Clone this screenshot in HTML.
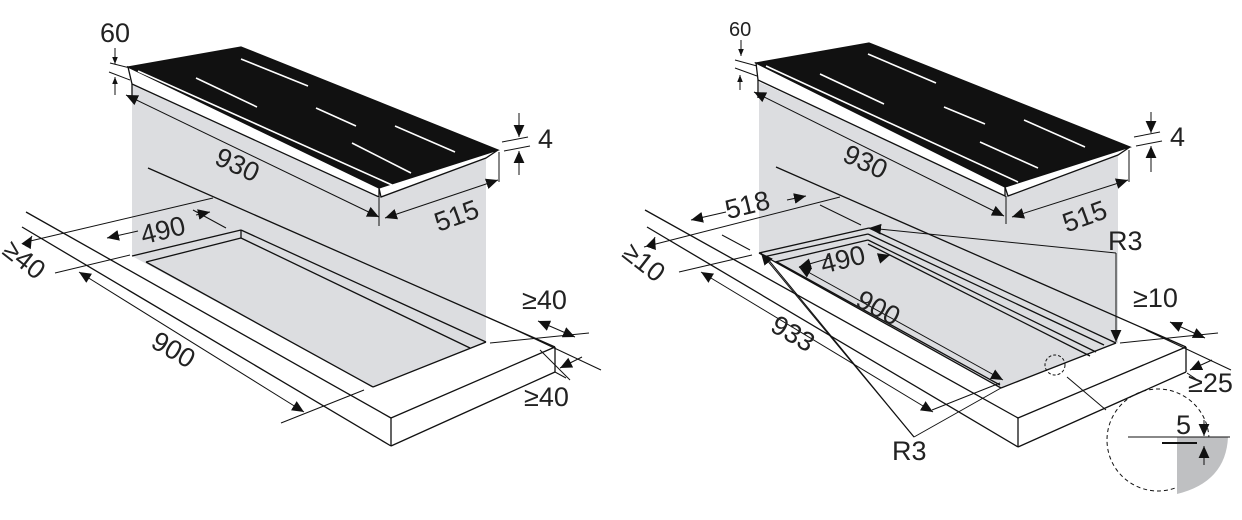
<!DOCTYPE html>
<html><head><meta charset="utf-8"><style>
html,body{margin:0;padding:0;background:#fff;}
svg{display:block;}
text{font-family:"Liberation Sans",sans-serif;fill:#222;}
</style></head><body>
<svg width="1242" height="520" viewBox="0 0 1242 520" xmlns="http://www.w3.org/2000/svg">
<defs>
<marker id="a" viewBox="0 0 10 10" refX="10" refY="5" markerWidth="12" markerHeight="12" orient="auto-start-reverse" markerUnits="userSpaceOnUse"><path d="M0,0.5 L10,5 L0,9.5 Z" fill="#111"/></marker>
<marker id="s" viewBox="0 0 10 10" refX="10" refY="5" markerWidth="7" markerHeight="7" orient="auto-start-reverse" markerUnits="userSpaceOnUse"><path d="M0,1 L10,5 L0,9 Z" fill="#111"/></marker>
</defs>
<g stroke="#111" stroke-width="1.3" fill="none">
<!-- LEFT FIGURE -->
<polygon points="132,85 379,197 486,157 486,343 373,387 132,256" fill="#dcdde0" stroke="none"/>
<line x1="26" y1="212" x2="391" y2="418"/>
<line x1="22" y1="227" x2="391" y2="446"/>
<line x1="391" y1="418" x2="555" y2="347"/>
<line x1="391" y1="418" x2="391" y2="446"/>
<line x1="391" y1="446" x2="555" y2="372"/>
<line x1="555" y1="347" x2="555" y2="372"/>
<line x1="148" y1="168" x2="555" y2="347"/>
<line x1="132" y1="256" x2="241" y2="230"/>
<line x1="241" y1="230" x2="241" y2="238"/>
<line x1="241" y1="238" x2="146" y2="262"/>
<line x1="241" y1="230" x2="486" y2="342"/>
<line x1="241" y1="238" x2="470" y2="348"/>
<line x1="146" y1="262" x2="373" y2="387"/>
<line x1="373" y1="387" x2="486" y2="342"/>
<polygon points="128,67 241,47 498,150 379,188" fill="#111"/>
<polygon points="128,67 379,188 379,197 132,84" fill="#fff"/>
<polygon points="379,188 498,150 486,158 381,197" fill="#fff"/>
<line x1="132" y1="84" x2="132" y2="100"/>
<g stroke="#fff" stroke-width="1.6">
<line x1="241" y1="59" x2="308" y2="86"/><line x1="196" y1="78" x2="257" y2="107"/>
<line x1="316" y1="108" x2="356" y2="126"/><line x1="395" y1="126" x2="455" y2="152"/>
<line x1="352" y1="143" x2="411" y2="173"/><line x1="138" y1="71" x2="392" y2="185"/>
</g>
<g stroke-width="1">
<line x1="126" y1="95" x2="379" y2="217" marker-start="url(#a)" marker-end="url(#a)"/>
<line x1="379" y1="198" x2="379" y2="226"/>
<line x1="385" y1="218" x2="498" y2="180" marker-start="url(#a)" marker-end="url(#a)"/>
<line x1="499" y1="152" x2="499" y2="182"/>
<line x1="110" y1="63" x2="130" y2="68"/><line x1="109" y1="72" x2="130" y2="80"/>
<line x1="115" y1="48" x2="115" y2="64" marker-end="url(#s)"/>
<line x1="115" y1="95" x2="115" y2="77" marker-end="url(#s)"/>
<line x1="502" y1="142" x2="528" y2="137"/><line x1="504" y1="151" x2="530" y2="146"/>
<line x1="519" y1="113" x2="519" y2="137" marker-end="url(#a)"/>
<line x1="519" y1="175" x2="519" y2="151" marker-end="url(#a)"/>
<line x1="26" y1="242" x2="213" y2="198"/>
<line x1="55" y1="273" x2="130" y2="255"/>
<line x1="107" y1="238" x2="138" y2="231" marker-start="url(#a)"/>
<line x1="196" y1="215" x2="210" y2="212" marker-end="url(#a)"/>
<line x1="193" y1="210" x2="226" y2="228"/>
<line x1="28" y1="243" x2="32" y2="236" marker-end="url(#a)"/>
<line x1="79" y1="272" x2="304" y2="412" marker-start="url(#a)" marker-end="url(#a)"/>
<line x1="281" y1="423" x2="364" y2="390"/>
<line x1="490" y1="343" x2="589" y2="333"/>
<line x1="516" y1="330" x2="601" y2="370"/>
<line x1="538" y1="321" x2="575" y2="337" marker-start="url(#a)" marker-end="url(#a)"/>
<line x1="555" y1="372" x2="566" y2="378"/>
<line x1="560" y1="368" x2="582" y2="357" marker-start="url(#a)"/>
<line x1="540" y1="350" x2="570" y2="380"/>
</g>

<!-- RIGHT FIGURE -->
<polygon points="759,82 1006,194 1118,154 1118,343 1001,388 759,253" fill="#dcdde0" stroke="none"/>
<line x1="645" y1="210" x2="1018" y2="418"/>
<line x1="647" y1="227" x2="1018" y2="447"/>
<line x1="1018" y1="418" x2="1186" y2="347"/>
<line x1="1018" y1="418" x2="1018" y2="447"/>
<line x1="1018" y1="447" x2="1186" y2="372"/>
<line x1="1186" y1="347" x2="1186" y2="372"/>
<line x1="776" y1="167" x2="1186" y2="347"/>
<line x1="759" y1="253" x2="869" y2="228"/>
<line x1="869" y1="228" x2="1116" y2="343"/>
<line x1="759" y1="253" x2="1001" y2="388"/>
<line x1="1001" y1="388" x2="1116" y2="343"/>
<line x1="763" y1="257" x2="868" y2="234"/>
<line x1="868" y1="234" x2="1104" y2="345"/>
<line x1="775" y1="262" x2="868" y2="240"/>
<line x1="868" y1="240" x2="1096" y2="352"/>
<line x1="868" y1="244" x2="1090" y2="356"/>
<line x1="777" y1="262" x2="1000" y2="385"/>
<polygon points="756,63 869,43 1130,147 1005,187" fill="#111"/>
<polygon points="756,63 1005,187 1005,196 758,80" fill="#fff"/>
<polygon points="1005,187 1130,147 1118,155 1008,196" fill="#fff"/>
<line x1="758" y1="80" x2="758" y2="98"/>
<g stroke="#fff" stroke-width="1.6">
<line x1="868" y1="54" x2="936" y2="83"/><line x1="820" y1="74" x2="884" y2="104"/>
<line x1="944" y1="107" x2="985" y2="124"/><line x1="1024" y1="120" x2="1085" y2="147"/>
<line x1="980" y1="142" x2="1038" y2="168"/><line x1="766" y1="66" x2="1018" y2="182"/>
</g>
<g stroke-width="1">
<line x1="754" y1="92" x2="1004" y2="216" marker-start="url(#a)" marker-end="url(#a)"/>
<line x1="1006" y1="196" x2="1006" y2="224"/>
<line x1="1012" y1="217" x2="1128" y2="180" marker-start="url(#a)" marker-end="url(#a)"/>
<line x1="1129" y1="150" x2="1129" y2="182"/>
<line x1="735" y1="60" x2="757" y2="66"/><line x1="735" y1="68" x2="757" y2="76"/>
<line x1="741" y1="40" x2="741" y2="56" marker-end="url(#s)"/>
<line x1="740" y1="90" x2="740" y2="75" marker-end="url(#s)"/>
<line x1="1134" y1="137" x2="1160" y2="132"/><line x1="1136" y1="146" x2="1162" y2="141"/>
<line x1="1151" y1="112" x2="1151" y2="133" marker-end="url(#a)"/>
<line x1="1151" y1="172" x2="1151" y2="146" marker-end="url(#a)"/>
<line x1="644" y1="247" x2="840" y2="197"/>
<line x1="679" y1="272" x2="752" y2="255"/>
<line x1="691" y1="220" x2="726" y2="212" marker-start="url(#a)"/>
<line x1="787" y1="200" x2="806" y2="196" marker-end="url(#a)"/>
<line x1="820" y1="205" x2="861" y2="225"/>
<line x1="722" y1="235" x2="750" y2="250"/>
<line x1="652" y1="245" x2="655" y2="237" marker-end="url(#a)"/>
<line x1="701" y1="272" x2="933" y2="412" marker-start="url(#a)" marker-end="url(#a)"/>
<line x1="932" y1="410" x2="1000" y2="383"/>
<line x1="799" y1="267" x2="1003" y2="380" marker-start="url(#a)" marker-end="url(#a)"/>
<line x1="799" y1="267" x2="830" y2="258" marker-start="url(#a)"/>
<line x1="880" y1="258" x2="890" y2="255" marker-end="url(#a)"/>
<line x1="1116" y1="253" x2="869" y2="228" marker-end="url(#a)"/>
<line x1="1116" y1="253" x2="1116" y2="342" marker-end="url(#a)"/>
<line x1="914" y1="437" x2="761" y2="253" marker-end="url(#a)"/>
<line x1="914" y1="437" x2="767" y2="258"/>
<line x1="914" y1="437" x2="1001" y2="388"/>
<line x1="1120" y1="343" x2="1218" y2="333"/>
<line x1="1146" y1="330" x2="1231" y2="370"/>
<line x1="1170" y1="322" x2="1205" y2="338" marker-start="url(#a)" marker-end="url(#a)"/>
<line x1="1187" y1="373" x2="1196" y2="379"/>
<line x1="1190" y1="370" x2="1212" y2="360" marker-start="url(#a)"/>
<circle cx="1055" cy="365" r="10" stroke-dasharray="3,2"/>
<line x1="1067" y1="377" x2="1106" y2="410"/>
<circle cx="1158" cy="440" r="51" stroke-dasharray="4,3"/>
</g>
<path d="M1177,437 H1228 Q1226,482 1177,494 Z" fill="#bfc0c2" stroke="none"/>
<line x1="1128" y1="437" x2="1230" y2="437" stroke="#111" stroke-width="1"/>
<line x1="1162" y1="443" x2="1197" y2="443" stroke="#111" stroke-width="2"/>
<line x1="1204" y1="420" x2="1204" y2="436" stroke="#111" stroke-width="1" marker-end="url(#a)"/>
<line x1="1204" y1="465" x2="1204" y2="446" stroke="#111" stroke-width="1" marker-end="url(#a)"/>
</g>
<g font-size="27">
<text x="100" y="42">60</text>
<text x="538" y="148">4</text>
<text x="215" y="175" transform="rotate(25 240 165)">930</text>
<text x="432" y="225" transform="rotate(-20 455 210)">515</text>
<text x="140" y="238" transform="rotate(-14 168 228)">490</text>
<text x="0" y="268" transform="rotate(38 22 262)">≥40</text>
<text x="150" y="360" transform="rotate(30 175 352)">900</text>
<text x="522" y="309">≥40</text>
<text x="524" y="406">≥40</text>
<text x="729" y="36" font-size="20">60</text>
<text x="1170" y="146">4</text>
<text x="843" y="172" transform="rotate(25 868 162)">930</text>
<text x="1060" y="225" transform="rotate(-20 1085 210)">515</text>
<text x="725" y="213" transform="rotate(-14 752 205)">518</text>
<text x="622" y="272" transform="rotate(38 645 262)">≥10</text>
<text x="770" y="344" transform="rotate(30 795 335)">933</text>
<text x="855" y="318" transform="rotate(28 880 310)">900</text>
<text x="820" y="268" transform="rotate(-14 845 258)">490</text>
<text x="1108" y="250">R3</text>
<text x="892" y="460">R3</text>
<text x="1133" y="307">≥10</text>
<text x="1188" y="392">≥25</text>
<text x="1176" y="434">5</text>
</g>
</svg>
</body></html>
